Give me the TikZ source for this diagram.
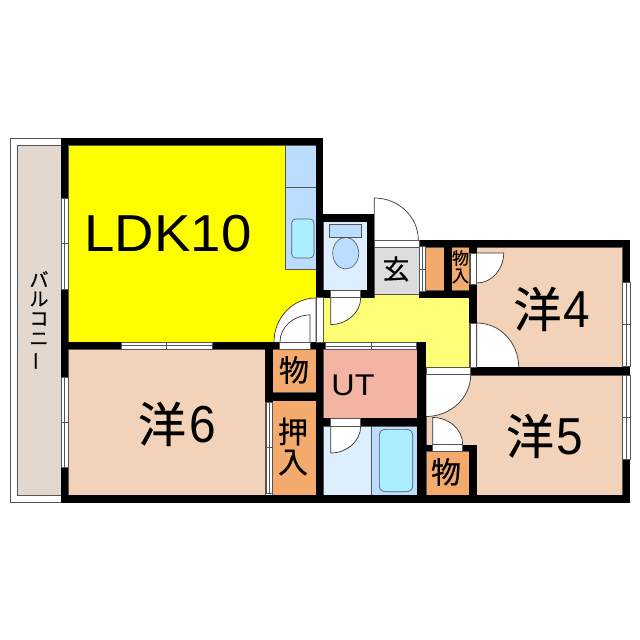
\documentclass[tikz,border=0pt]{standalone}
\usepackage{fontspec}
\setmainfont{Liberation Sans}
\newfontfamily\jp[FakeBold=0.5]{Noto Sans CJK JP}
\usepackage{xcolor}
\definecolor{ldk}{HTML}{FFFF00}
\definecolor{hall}{HTML}{FFFF77}
\definecolor{room}{HTML}{F2D2B8}
\definecolor{closet}{HTML}{F4AA6C}
\definecolor{utility}{HTML}{F4B4A4}
\definecolor{wetpale}{HTML}{DDEEFF}
\definecolor{wet}{HTML}{BBDDFF}
\definecolor{tub}{HTML}{AAEEFF}
\definecolor{entry}{HTML}{DDDDDD}
\definecolor{balcony}{HTML}{E2D8D0}
\definecolor{edge}{HTML}{555555}
\begin{document}
\begin{tikzpicture}[x=1pt,y=-1pt]
    \tikzstyle{area} = [draw=edge,line width=.6pt]
    \tikzstyle{wall} = [fill=black]
    \tikzstyle{jamb} = [fill=white,draw=edge,line width=.6pt]
    \tikzstyle{door} = [fill=white,draw=black!80,line width=.7pt]
    \tikzstyle{big} = [inner sep=0pt,font=\fontsize{52}{52}\selectfont]
    \tikzstyle{digit} = [big,xscale=.92]
    \tikzstyle{kanji} = [inner sep=0pt,font=\jp\fontsize{48}{48}\selectfont]
    \tikzstyle{label} = [inner sep=0pt,font=\jp\fontsize{30}{30}\selectfont]
    \tikzstyle{tiny} = [inner sep=0pt,font=\jp\fontsize{17}{17}\selectfont]
    \tikzstyle{side} = [inner sep=0pt,font=\jp\fontsize{19}{19}\selectfont]
    \useasboundingbox (0,0) rectangle (640,640);
    %% balcony
    \draw [area,fill=white] (10,138) rectangle (61,502.5);
    \draw [area,fill=balcony] (17,145) rectangle (61,495);
    %% rooms
    \draw [area,fill=ldk] (68,145) rectangle (316,342);
    \draw [area,fill=room] (68,349) rectangle (265,495);
    \draw [area,fill=room] (476.7,247) rectangle (622.7,367);
    \draw [area,fill=room] (426,375) rectangle (622.7,495);
    \draw [area,fill=hall] (323,297.5) -| (374.3,294.3) -| (469.5,367.5) -| (418.3,342) -| cycle;
    \draw [area,fill=utility] (323.3,349) rectangle (418.3,418.3);
    \draw [area,fill=entry] (374.3,246.7) rectangle (419,294.3);
    \draw [area,fill=wetpale] (323.3,221.7) rectangle (367.3,290);
    \draw [area,fill=wetpale] (323.3,426) rectangle (371,495);
    \draw [area,fill=wet] (371,426) rectangle (418.3,495);
    %% closets
    \foreach \xa/\ya/\xb/\yb in {272.7/349/316/392.7, 272.7/400.7/316/495, 426/451/469.3/495,
                                 425.7/247/444/290.7, 451.7/247/469.3/290.7}
      \draw [area,fill=closet] (\xa,\ya) rectangle (\xb,\yb);
    %% kitchen and wet fittings
    \draw [area,fill=wet] (285.7,145) rectangle (316,269);
    \draw [area] (285.7,187.7) -- (316,187.7);
    \draw [area,fill=tub,rounded corners=4pt] (291.7,219) rectangle (314,258);
    \draw [area,fill=tub,rounded corners=6pt] (379.3,429.3) rectangle (412.7,491.7);
    \draw [area,fill=wet] (345.7,253.2) ellipse [x radius=13,y radius=15.8];
    \draw [area,fill=wet] (329.3,224) rectangle (361.7,237.3);
    %% doors
    \foreach \hx/\hy/\rx/\ry/\sa/\ea in {316/342/42/44/180/270, 310/342/30/27/180/270,
                                         330.7/297.5/30/27/0/90, 374.3/240/44/42/360/270,
                                         476.7/253/27/30/90/0, 476.7/367/42/44/360/270,
                                         426/374.5/44.7/42/0/90, 432.7/444.5/30/27/360/270,
                                         330.7/426/30/27/0/90}
      \filldraw [door] (\hx,\hy) ++({\rx*cos(\sa)},{\ry*sin(\sa)})
        arc [start angle=\sa,end angle=\ea,x radius=\rx,y radius=\ry] -- (\hx,\hy);
    %% walls
    \foreach \xa/\ya/\xb/\yb in {61/138/323/145, 61/138/68/198, 61/289/68/377, 61/467/68/502.5,
                                 61/495/630/502.5, 316/138/323/297, 61/342/121/349, 212/342/279/349,
                                 310/342/325.7/349, 316/342/323/502.5, 265/342/272.7/402,
                                 265/392.7/323/400.7, 323/214/374.3/221.7, 367.3/214/374.3/297.7,
                                 323/290/330.7/297.7, 360.7/290/374.3/297.7,
                                 419/240/630/247, 419/290.7/476.7/297.7, 444/240/451.7/297.7,
                                 469.3/240/476.7/253, 469.3/284/476.7/323,
                                 622.7/240/630/282.3, 622.7/366/630/375, 622.7/459/630/502.5,
                                 470.7/367/630/375, 416.7/342/426/502.5, 323/418.3/426/426,
                                 426/444.5/477.3/451, 469.3/444.5/477.3/502.5}
      \fill [wall] (\xa,\ya) rectangle (\xb,\yb);
    %% door openings
    \foreach \xa/\ya/\xb/\yb in {316/297/323/342, 279/342/310/349, 330.7/290/360.7/297.5,
                                 374.3/240/419/247, 470/253/476.7/284, 470/323/476.7/367,
                                 426/367.7/470.7/374.7, 432.7/444.5/462.7/451,
                                 330.7/418.3/360.7/426}
      \draw [jamb] (\xa,\ya) rectangle (\xb,\yb);
    %% windows
    \foreach \xa/\ya/\xb/\yb in {61/198/68/289, 61/377/68/467, 266/402/272.5/493,
                                 419/246/425.7/291.7, 622.7/282.3/630/366, 622.7/375/630/459}
      \draw [jamb] (\xa,\ya) rectangle (\xb,\yb)
        ({(\xa+\xb)/2},\ya) -- ({(\xa+\xb)/2},\yb)
        (\xa,{(\ya+\yb)/2}) -- (\xb,{(\ya+\yb)/2});
    \foreach \xa/\ya/\xb/\yb in {121/342/212/349, 325.7/342.7/416.7/349}
      \draw [jamb] (\xa,\ya) rectangle (\xb,\yb)
        (\xa,{(\ya+\yb)/2}) -- (\xb,{(\ya+\yb)/2})
        ({(\xa+\xb)/2},\ya) -- ({(\xa+\xb)/2},\yb);
    %% labels
    \node [big,xscale=1.05] (ldk) at (168,234) {LDK10};
    \node [kanji] (room4k) at (537.5,309) {洋};
    \node [digit] (room4n) at (577,309.5) {4};
    \node [kanji] (room5k) at (530,436) {洋};
    \node [digit] (room5n) at (570,437) {5};
    \node [kanji] (room6k) at (162,424) {洋};
    \node [digit] (room6n) at (203,424.5) {6};
    \node [label] (store1) at (294,370) {物};
    \node [label] (push1) at (293,431.5) {押};
    \node [label] (push2) at (293,462.5) {入};
    \node [inner sep=0pt,xscale=1.08,font=\fontsize{30}{30}\selectfont] (ut) at (353,385) {UT};
    \node [label] (store2) at (446,472) {物};
    \node [inner sep=0pt,font=\jp\fontsize{27}{27}\selectfont] (entrance) at (396,269) {玄};
    \node [tiny] (store3) at (460.5,258) {物};
    \node [tiny] (store4) at (460.5,276) {入};
    \foreach \ch/\yy/\nm in {バ/279/a,ル/299/b,コ/319/c,ニ/339/d}
      \node [side] (balc\nm) at (39,\yy) {\ch};
    \node [side,rotate=90] (balce) at (39,361) {ー};
\end{tikzpicture}
\end{document}
